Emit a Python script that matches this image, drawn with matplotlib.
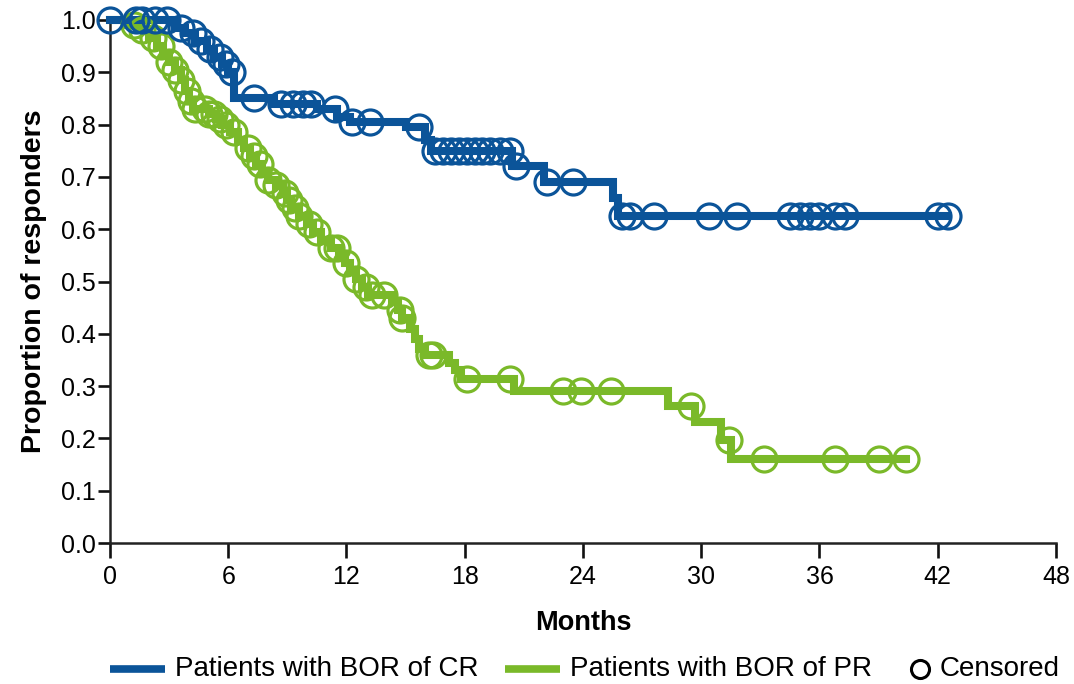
import numpy as np
import matplotlib
matplotlib.use("Agg")
import matplotlib.pyplot as plt
from matplotlib.lines import Line2D
from matplotlib import font_manager

# Kaplan-Meier style duration of response, by best overall response
cr_event_t = [0.0, 3.3, 3.8, 4.3, 4.9, 5.3, 5.7, 6.0, 6.3, 8.3, 10.5, 11.5, 12.2,
              15.0, 16.0, 16.3, 20.4, 22.0, 25.5, 25.8]
cr_event_s = [1.0, 0.985, 0.975, 0.96, 0.945, 0.93, 0.915, 0.90, 0.85, 0.84, 0.83,
              0.815, 0.805, 0.795, 0.77, 0.75, 0.72, 0.69, 0.66, 0.625]
cr_end = 42.5
cr_censor_t = [0.0, 1.3, 1.6, 2.3, 2.9, 3.6, 4.2, 4.6, 5.1, 5.6, 5.9, 6.2, 7.3, 8.7,
               9.3, 9.8, 10.2, 11.4, 12.3, 13.2, 15.7, 16.5, 16.9, 17.3, 17.7, 18.1,
               18.5, 18.9, 19.3, 19.8, 20.3, 20.6, 22.2, 23.5, 26.0, 26.4, 27.6,
               30.4, 31.8, 34.5, 35.0, 35.5, 36.0, 36.8, 37.3, 42.0, 42.5]

pr_event_t = [0.0, 0.8, 1.5, 2.0, 2.4, 2.7, 3.0, 3.3, 3.6, 3.8, 4.0, 4.2, 5.0, 5.4,
              5.7, 6.1, 6.5, 6.8, 7.1, 7.4, 7.7, 8.0, 8.4, 8.8, 9.0, 9.2, 9.6, 10.0,
              10.3, 10.7, 11.2, 11.6, 11.9, 12.2, 12.5, 12.8, 13.1, 14.3, 14.6, 14.8,
              15.2, 15.5, 15.7, 16.0, 17.2, 17.5, 17.8, 20.5, 28.3, 29.7, 31.0, 31.5]
pr_event_s = [1.0, 0.99, 0.98, 0.965, 0.95, 0.935, 0.92, 0.905, 0.885, 0.865, 0.845,
              0.83, 0.82, 0.81, 0.80, 0.785, 0.77, 0.755, 0.74, 0.725, 0.71, 0.695,
              0.685, 0.67, 0.655, 0.64, 0.625, 0.61, 0.595, 0.58, 0.565, 0.55, 0.535,
              0.52, 0.505, 0.49, 0.475, 0.46, 0.445, 0.43, 0.41, 0.39, 0.37, 0.36,
              0.345, 0.33, 0.313, 0.29, 0.262, 0.232, 0.197, 0.16]
pr_end = 40.4
pr_censor_t = [1.2, 1.6, 2.2, 2.6, 3.0, 3.3, 3.6, 3.9, 4.1, 4.3, 4.8, 5.0, 5.3, 5.6,
               5.9, 6.3, 7.0, 7.3, 7.6, 8.0, 8.4, 8.9, 9.1, 9.4, 9.6, 10.1, 10.5,
               11.2, 11.5, 12.0, 12.5, 13.0, 13.3, 13.9, 14.7, 14.8, 16.2, 16.4,
               18.1, 20.3, 23.0, 23.9, 25.4, 29.5, 31.4, 33.2, 36.8, 39.0, 40.4]

x_ticks = [0, 6, 12, 18, 24, 30, 36, 42, 48]
y_ticks = [0.0, 0.1, 0.2, 0.3, 0.4, 0.5, 0.6, 0.7, 0.8, 0.9, 1.0]

series_labels = ["Patients with BOR of CR", "Patients with BOR of PR", "Censored"]
CR_COLOR = "#0b5499"
PR_COLOR = "#7ab929"

available = {f.name for f in font_manager.fontManager.ttflist}
base_font = "Liberation Sans" if "Liberation Sans" in available else "DejaVu Sans"
plt.rcParams["font.family"] = [base_font, "DejaVu Sans"]


def survival_at(times, event_t, event_s):
    idx = np.searchsorted(np.asarray(event_t), np.asarray(times), side="right") - 1
    return np.asarray(event_s)[idx]


fig = plt.figure(figsize=(10.74, 6.84), dpi=100)
ax = fig.add_axes([0.1024, 0.2061, 0.8808, 0.7647])

for ev_t, ev_s, end, cens, color in [
    (pr_event_t, pr_event_s, pr_end, pr_censor_t, PR_COLOR),
    (cr_event_t, cr_event_s, cr_end, cr_censor_t, CR_COLOR),
]:
    t = list(ev_t) + [end]
    s = list(ev_s) + [ev_s[-1]]
    ax.step(t, s, where="post", color=color, lw=5.8, solid_joinstyle="miter",
            clip_on=False, zorder=3)
    ax.plot(cens, survival_at(cens, ev_t, ev_s), ls="none", marker="o", ms=18,
            mfc="none", mec=color, mew=2.3, clip_on=False, zorder=4)

ax.set_xlim(0, 48)
ax.set_ylim(0, 1.0)
ax.set_xticks(x_ticks)
ax.set_xticklabels([str(v) for v in x_ticks])
ax.set_yticks(y_ticks)
ax.set_yticklabels([f"{v:.1f}" for v in y_ticks])

for side in ["top", "right"]:
    ax.spines[side].set_visible(False)
for side in ["left", "bottom"]:
    ax.spines[side].set_linewidth(1.8)
    ax.spines[side].set_color("#222222")
ax.tick_params(axis="both", direction="out", width=1.9, color="#111111", labelsize=18)
ax.tick_params(axis="x", length=11, pad=5)
ax.tick_params(axis="y", length=9, pad=1)

ax.set_xlabel("Months", fontsize=19.5, fontweight="bold", labelpad=15)
ax.set_ylabel("Proportion of responders", fontsize=20.5, fontweight="bold", labelpad=10)

# Legend row along the bottom edge
leg_y = 1 - 669 / 684
px = lambda v: v / 1074
fig.add_artist(Line2D([px(110), px(165)], [leg_y, leg_y], color=CR_COLOR, lw=5.5,
                      solid_capstyle="butt"))
fig.text(px(175), leg_y, series_labels[0], fontsize=20, va="center", ha="left")
fig.add_artist(Line2D([px(505), px(560)], [leg_y, leg_y], color=PR_COLOR, lw=5.5,
                      solid_capstyle="butt"))
fig.text(px(570), leg_y, series_labels[1], fontsize=20, va="center", ha="left")
fig.add_artist(Line2D([px(920)], [leg_y], ls="none", marker="o", ms=13, mfc="none",
                      mec="black", mew=2.2))
fig.text(px(940), leg_y, series_labels[2], fontsize=20, va="center", ha="left")

fig.savefig("out.png", dpi=100)
